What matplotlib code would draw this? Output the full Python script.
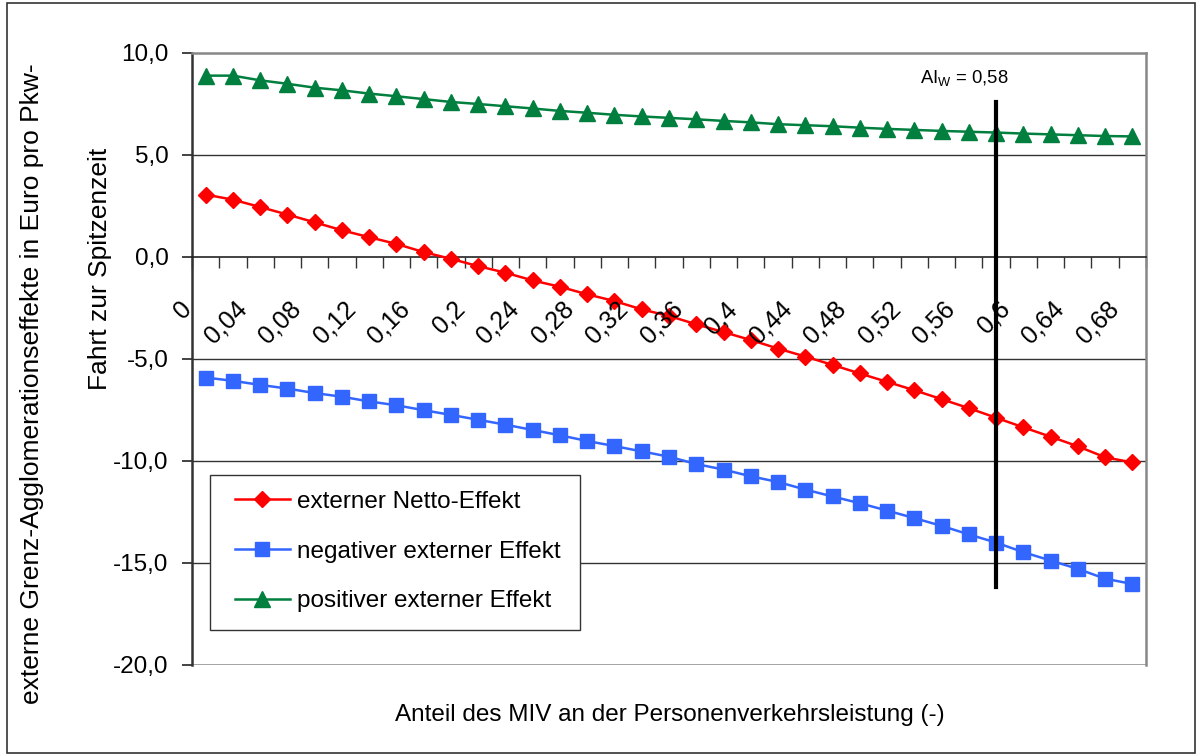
import matplotlib
matplotlib.use("Agg")
import matplotlib.pyplot as plt
from matplotlib.patches import Rectangle

plt.rcParams['font.family'] = ['Liberation Sans', 'DejaVu Sans']
plt.rcParams['mathtext.fontset'] = 'custom'
plt.rcParams['mathtext.rm'] = 'Liberation Sans'
plt.rcParams['mathtext.it'] = 'Liberation Sans'

# Anteil des MIV (categories 0 .. 0,68 in steps of 0,02)
anteil = ["0", "0,02", "0,04", "0,06", "0,08", "0,1", "0,12", "0,14", "0,16", "0,18",
          "0,2", "0,22", "0,24", "0,26", "0,28", "0,3", "0,32", "0,34", "0,36", "0,38",
          "0,4", "0,42", "0,44", "0,46", "0,48", "0,5", "0,52", "0,54", "0,56", "0,58",
          "0,6", "0,62", "0,64", "0,66", "0,68"]

netto = [3.06, 2.81, 2.45, 2.08, 1.70, 1.31, 0.97, 0.64, 0.24, -0.09,
         -0.45, -0.77, -1.15, -1.46, -1.83, -2.16, -2.57, -2.89, -3.30, -3.68,
         -4.07, -4.49, -4.88, -5.29, -5.71, -6.12, -6.53, -6.97, -7.41, -7.88,
         -8.35, -8.81, -9.28, -9.82, -10.07]

negativ = [-5.91, -6.07, -6.27, -6.45, -6.67, -6.85, -7.08, -7.27, -7.51, -7.74,
           -7.98, -8.22, -8.48, -8.74, -9.02, -9.27, -9.53, -9.79, -10.15, -10.42,
           -10.75, -11.03, -11.40, -11.74, -12.07, -12.43, -12.80, -13.18, -13.60, -14.00,
           -14.47, -14.88, -15.29, -15.77, -16.03]

positiv = [8.89, 8.89, 8.66, 8.49, 8.30, 8.17, 8.01, 7.88, 7.74, 7.60,
           7.50, 7.39, 7.28, 7.16, 7.07, 6.97, 6.89, 6.82, 6.75, 6.67,
           6.60, 6.51, 6.46, 6.41, 6.34, 6.28, 6.23, 6.18, 6.14, 6.10,
           6.05, 6.01, 5.97, 5.93, 5.91]

ai_w_label = "0,58"
y_ticks = [10, 5, 0, -5, -10, -15, -20]

idx = list(range(len(anteil)))
ai_idx = anteil.index(ai_w_label)

FS = 17.5

fig = plt.figure(figsize=(12, 7.56), dpi=100)
ax = fig.add_axes([0.16, 0.1204, 0.795, 0.8095])

ax.set_xlim(-0.5, len(anteil) - 0.5)
ax.set_ylim(-20, 10)

# horizontal gridlines
for v in [5, -5, -10, -15]:
    ax.axhline(v, color='#333333', lw=1.0, zorder=1)

ax.plot(idx, netto, color='#FF0000', lw=1.8, marker='D', ms=8.3,
        label='externer Netto-Effekt', zorder=3)
ax.plot(idx, negativ, color='#3366FF', lw=1.8, marker='s', ms=10.5,
        label='negativer externer Effekt', zorder=3)
ax.plot(idx, positiv, color='#007F3F', lw=1.8, marker='^', ms=11,
        label='positiver externer Effekt', zorder=3)

# AI_W marker line
ax.plot([ai_idx, ai_idx], [-16.2, 7.6], color='black', lw=3, zorder=4)
ax.text(ai_idx - 1.15, 8.75, r"AI$_{\mathrm{W}}$ = " + ai_w_label, fontsize=13.3,
        ha='center', va='center')

# spines
ax.spines['bottom'].set_position(('data', 0))
ax.spines['bottom'].set_color('#222222')
ax.spines['bottom'].set_linewidth(1.2)
ax.spines['left'].set_color('#333333')
ax.spines['left'].set_linewidth(1.8)
for s in ['top', 'right']:
    ax.spines[s].set_color('#888888')
    ax.spines[s].set_linewidth(1.8)
ax.axhline(-20, color='#888888', lw=1.8, zorder=1)

# y axis
ax.set_yticks(y_ticks)
ax.set_yticklabels([f"{v:.1f}".replace('.', ',') for v in y_ticks], fontsize=FS)
ax.tick_params(axis='y', direction='out', length=7, width=1.2, pad=10, colors='#222222')
ax.tick_params(axis='y', labelcolor='black')

# x axis: ticks at category boundaries, labels every other category
ax.set_xticks([i - 0.5 for i in range(len(anteil) + 1)])
ax.set_xticklabels([])
ax.tick_params(axis='x', direction='out', length=8, width=1.0, colors='#333333')
for i in idx[::2]:
    ax.annotate(anteil[i], xy=(i, 0), xytext=(-9, -40), textcoords='offset pixels',
                rotation=45, ha='right', va='top', fontsize=FS + 0.5)

# legend: own frame box, entries placed inside it
ax.add_patch(Rectangle((0.0189, 0.0572), 0.3878, 0.2533, transform=ax.transAxes,
                       facecolor='white', edgecolor='#333333', lw=1.0, zorder=5))
leg = ax.legend(loc='upper left', bbox_to_anchor=(0.0451, 0.2843), borderaxespad=0,
                fontsize=FS, frameon=False, borderpad=0,
                handlelength=2.25, handletextpad=0.3, labelspacing=1.14)
leg.set_zorder(6)

fig.text(0.027, 0.492, "externe Grenz-Agglomerationseffekte in Euro pro Pkw-",
         rotation=90, ha='center', va='center', fontsize=19)
fig.text(0.083, 0.645, "Fahrt zur Spitzenzeit",
         rotation=90, ha='center', va='center', fontsize=19)
fig.text(0.558, 0.054, "Anteil des MIV an der Personenverkehrsleistung (-)",
         ha='center', va='center', fontsize=FS)

# chart border
fig.patches.append(Rectangle((0.006, 0.004), 0.99, 0.992, transform=fig.transFigure,
                             fill=False, edgecolor='#333333', lw=1.2))

fig.savefig("out.png", dpi=100)
